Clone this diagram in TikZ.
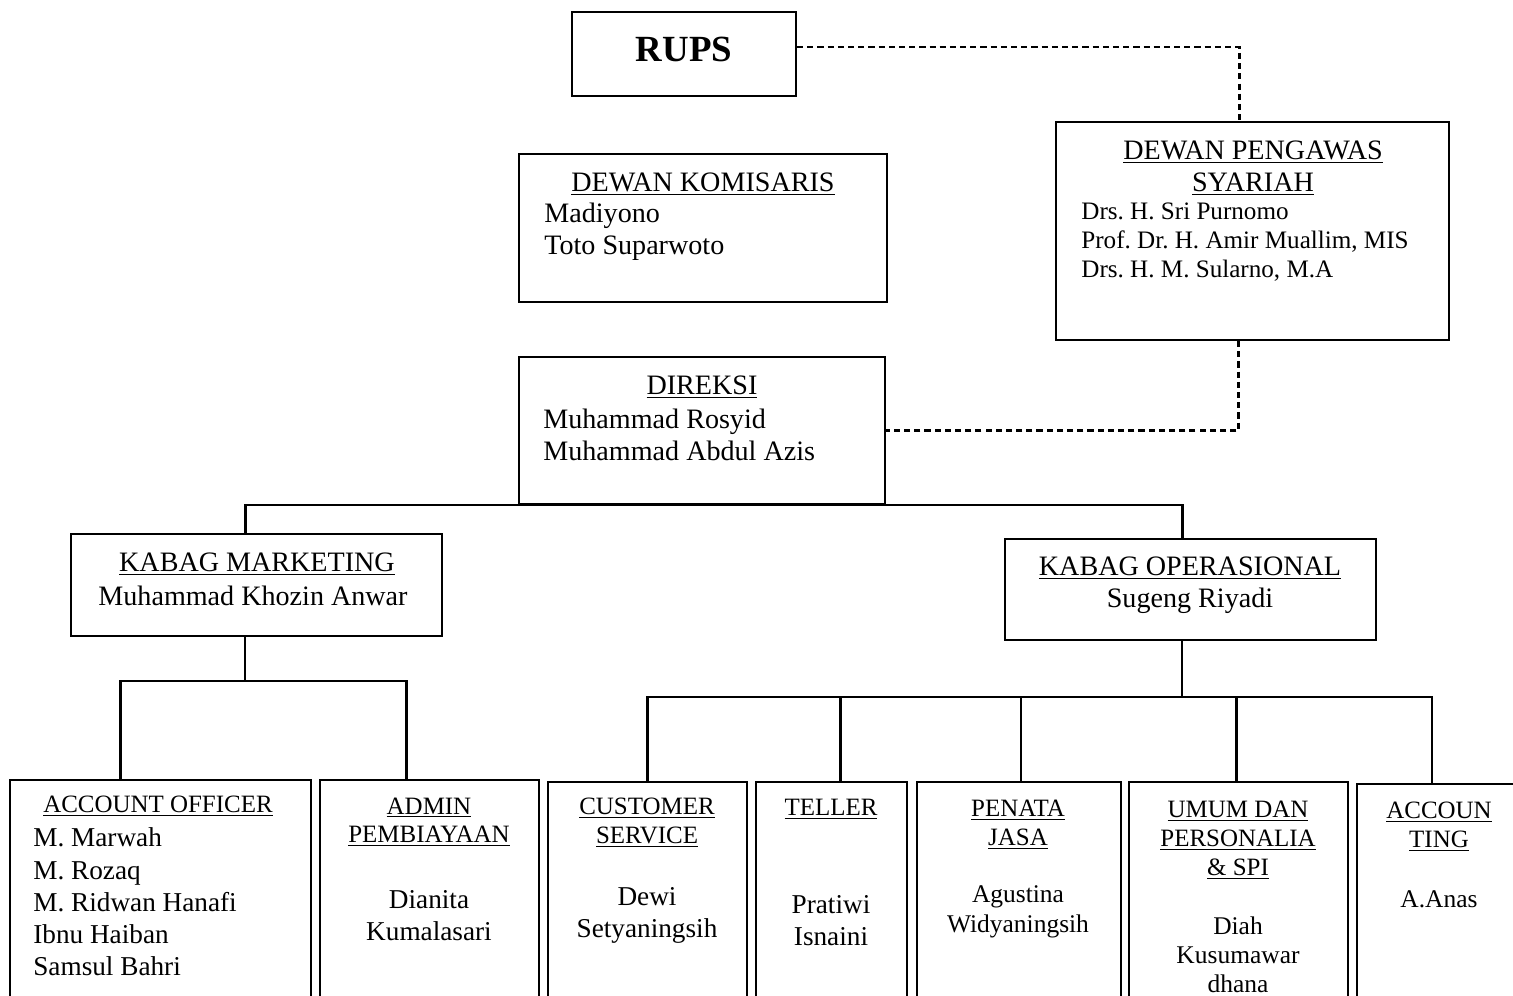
\documentclass[tikz,border=0pt]{standalone}
\usepackage{fontspec}
\setmainfont{Liberation Serif}
\usetikzlibrary{fit, calc}
\newcommand{\hd}[1]{\underline{#1}}
\frenchspacing

\begin{document}
\begin{tikzpicture}[
                x=0.02cm, y=-0.02cm,
                box/.style={draw, line width=1.2pt, inner sep=0pt},
                head/.style={font=\fontsize{16}{18.2}\selectfont, align=center, inner sep=0pt},
                people/.style={font=\fontsize{16}{18.4}\selectfont, align=left, anchor=west, inner sep=0pt},
                smallpeople/.style={font=\fontsize{14.3}{16.4}\selectfont, align=left, anchor=west, inner sep=0pt},
                unithead/.style={font=\fontsize{14.2}{16.4}\selectfont, align=center, inner sep=0pt},
                unitpeople/.style={font=\fontsize{15.5}{18.2}\selectfont, align=center, inner sep=0pt},
                line/.style={line width=1.2pt},
                dashline/.style={line width=1.2pt, dash pattern=on 3.5pt off 2.3pt}
            ]
            \useasboundingbox (0,0) rectangle (1513,995);

            % Top
            \node (rups) [box, fit={(572,12) (796,96)}] {};
            \node (rupslbl) [head, font=\fontsize{21}{24}\selectfont\bfseries] at (684,49) {RUPS};

            \node (komisaris) [box, fit={(519,154) (887,302)}] {};
            \node (komhead) [head] at (703,184) {\hd{DEWAN KOMISARIS}};
            \node (komnames) [people] at (544,232) {Madiyono\\Toto Suparwoto};

            \node (pengawas) [box, fit={(1056,122) (1449,340)}] {};
            \node (penghead) [head] at (1253,168) {\hd{DEWAN PENGAWAS}\\\hd{SYARIAH}};
            \node (pengnames) [smallpeople] at (1081,242)
            {Drs. H. Sri Purnomo\\Prof. Dr. H. Amir Muallim, MIS\\Drs. H. M. Sularno, M.A};

            \node (direksi) [box, fit={(519,357) (885,504)}] {};
            \node (dirhead) [head] at (702,387) {\hd{DIREKSI}};
            \node (dirnames) [people] at (543,435) {Muhammad Rosyid\\Muhammad Abdul Azis};

            % Middle Row
            \node (marketing) [box, fit={(71,534) (442,636)}] {};
            \node (mkthead) [head] at (257,564) {\hd{KABAG MARKETING}};
            \node (mktname) [head] at (253,596) {Muhammad Khozin Anwar};

            \node (operasional) [box, fit={(1005,539) (1376,640)}] {};
            \node (ophead) [head] at (1190,568) {\hd{KABAG OPERASIONAL}};
            \node (opname) [head] at (1190,601) {Sugeng Riyadi};

            % Bottom Row
            \node (officer) [box, fit={(10,780) (311,1010)}] {};
            \node (offhead) [unithead] at (158,806) {\hd{ACCOUNT OFFICER}};
            \node (offnames) [people, font=\fontsize{15.5}{18.4}\selectfont] at (33,902)
            {M. Marwah\\M. Rozaq\\M. Ridwan Hanafi\\Ibnu Haiban\\Samsul Bahri};

            \node (admin) [box, fit={(320,780) (539,1010)}] {};
            \node (admhead) [unithead] at (429,822) {\hd{ADMIN}\\\hd{PEMBIAYAAN}};
            \node (admname) [unitpeople] at (429,916) {Dianita\\Kumalasari};

            \node (cs) [box, fit={(548,782) (747,1010)}] {};
            \node (cshead) [unithead] at (647,823) {\hd{CUSTOMER}\\\hd{SERVICE}};
            \node (csname) [unitpeople] at (647,915) {Dewi\\Setyaningsih};

            \node (teller) [box, fit={(756,782) (907,1010)}] {};
            \node (telhead) [unithead] at (831,809) {\hd{TELLER}};
            \node (telname) [unitpeople] at (831,921) {Pratiwi\\Isnaini};

            \node (penata) [box, fit={(917,782) (1121,1010)}] {};
            \node (pjhead) [unithead] at (1018,825) {\hd{PENATA}\\\hd{JASA}};
            \node (pjname) [unitpeople, font=\fontsize{14.5}{16.8}\selectfont] at (1018,912) {Agustina\\Widyaningsih};

            \node (umum) [box, fit={(1129,782) (1348,1010)}] {};
            \node (umhead) [unithead] at (1238,840) {\hd{UMUM DAN}\\\hd{PERSONALIA}\\\hd{\& SPI}};
            \node (umname) [unitpeople, font=\fontsize{14.5}{16.4}\selectfont] at (1238,955) {Diah\\Kusumawar\\dhana};

            \node (accounting) [box, fit={(1357,784) (1525,1010)}] {};
            \node (achead) [unithead] at (1439,827) {\hd{ACCOUN}\\\hd{TING}};
            \node (acname) [unitpeople, font=\fontsize{14.5}{16.4}\selectfont] at (1439,899) {A.Anas};

            % Joints
            \coordinate (mktjoin) at (245,681);
            \coordinate (opjoin) at (1182,697);

            % Lines
            \draw [line] ($(marketing.north)+(-11,0)$) |- (direksi.south)
                -| ($(operasional.north)+(-8,0)$);
            \draw [line] (marketing.south -| mktjoin) -- (mktjoin);
            \draw [line] ($(officer.north)+(-40,0)$) |- (mktjoin)
                -| ($(admin.north)+(-23,0)$);
            \draw [line] (operasional.south -| opjoin) -- (opjoin);
            \draw [line] (cs.north) |- (opjoin) -| ($(accounting.north)+(-9,0)$);
            \draw [line] ($(teller.north)+(9,0)$) -- ($(teller.north |- opjoin)+(9,0)$);
            \draw [line] ($(penata.north)+(2,0)$) -- ($(penata.north |- opjoin)+(2,0)$);
            \draw [line] ($(umum.north)+(-2,0)$) -- ($(umum.north |- opjoin)+(-2,0)$);

            % Dashed
            \draw [dashline] ($(rups.east)+(0,-7)$) -| ($(pengawas.north)+(-13,0)$);
            \draw [dashline] ($(pengawas.south)+(-14,0)$) |- (direksi.east);

            \end{tikzpicture}
\end{document}
